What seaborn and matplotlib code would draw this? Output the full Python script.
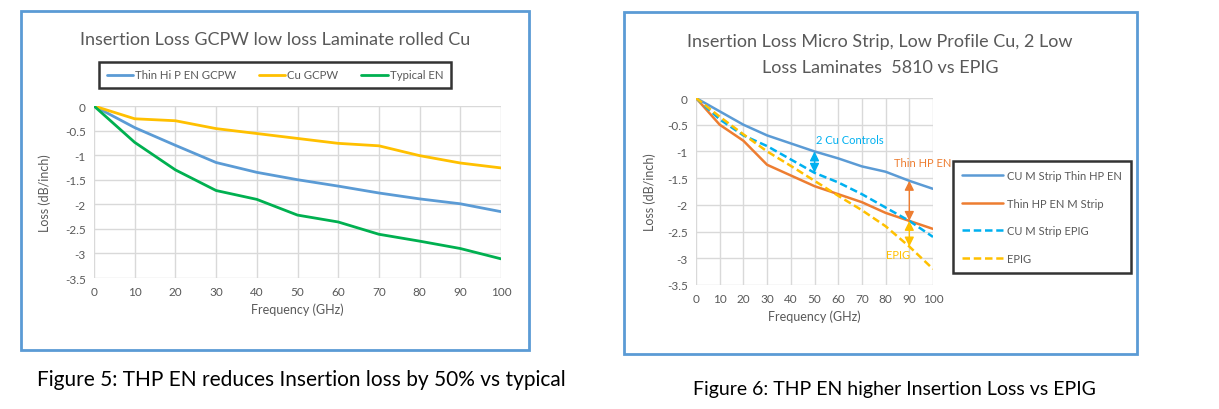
import seaborn as sns
import matplotlib.pyplot as plt
import pandas as pd
import numpy as np
from matplotlib.patches import Rectangle
from matplotlib.lines import Line2D
from matplotlib.ticker import FuncFormatter, MultipleLocator

# Frequency points (GHz)
freq = [0, 10, 20, 30, 40, 50, 60, 70, 80, 90, 100]

# Figure 5 - GCPW, low loss laminate, rolled Cu
left_names = ["Thin Hi P EN GCPW", "Cu GCPW", "Typical EN"]
thin_hi_p_en = [0, -0.44, -0.80, -1.15, -1.35, -1.50, -1.63, -1.77, -1.89, -1.99, -2.15]
cu_gcpw = [0, -0.26, -0.30, -0.46, -0.56, -0.66, -0.76, -0.81, -1.01, -1.16, -1.26]
typical_en = [0, -0.74, -1.30, -1.72, -1.90, -2.22, -2.36, -2.61, -2.75, -2.90, -3.11]

# Figure 6 - micro strip, low profile Cu
right_names = ["CU M Strip Thin HP EN", "Thin HP EN M Strip", "CU M Strip EPIG", "EPIG"]
cu_thin_hp_en = [0, -0.25, -0.50, -0.70, -0.85, -1.00, -1.13, -1.28, -1.38, -1.55, -1.70]
thin_hp_en_ms = [0, -0.50, -0.80, -1.25, -1.45, -1.65, -1.80, -1.95, -2.15, -2.30, -2.45]
cu_epig = [0, -0.40, -0.70, -0.90, -1.15, -1.40, -1.58, -1.80, -2.05, -2.30, -2.60]
epig = [0, -0.35, -0.68, -1.00, -1.27, -1.55, -1.83, -2.10, -2.40, -2.78, -3.20]

BLUE = "#5B9BD5"
GOLD = "#FFC000"
GREEN = "#00B050"
ORANGE = "#ED7D31"
CYAN = "#00B0F0"
GREY = "#595959"
GRID = "#D9D9D9"

sns.set_style("white")
plt.rcParams["font.family"] = ["Lato", "DejaVu Sans"]
plt.rcParams["axes.unicode_minus"] = False

W, H = 1219, 410
fig = plt.figure(figsize=(W / 100, H / 100), dpi=100)


def box(x0, y0, x1, y1):
    # pixel rect -> figure fraction
    return [x0 / W, 1 - y1 / H, (x1 - x0) / W, (y1 - y0) / H]


def style_axes(ax):
    ax.set_xlim(0, 100)
    ax.set_ylim(-3.5, 0)
    ax.xaxis.set_major_locator(MultipleLocator(10))
    ax.yaxis.set_major_locator(MultipleLocator(0.5))
    ax.yaxis.set_major_formatter(FuncFormatter(lambda v, p: "%g" % v))
    ax.grid(True, color=GRID, lw=1)
    for s in ax.spines.values():
        s.set_visible(False)
    ax.tick_params(length=0, labelsize=8.5, colors=GREY, pad=6)
    ax.set_xlabel("Frequency (GHz)", fontsize=9, color=GREY)
    ax.set_ylabel("Loss (dB/inch)", fontsize=9, color=GREY)


# panel borders
for x0, y0, x1, y1 in [(21, 12, 529, 351), (624, 13, 1137, 355)]:
    fig.add_artist(Rectangle((x0 / W, 1 - y1 / H), (x1 - x0) / W, (y1 - y0) / H,
                             transform=fig.transFigure, fill=False, ec="#5B9BD5", lw=2))

# ---- left chart ----
ax1 = fig.add_axes(box(94, 107, 501, 279))
df1 = pd.DataFrame({"freq": freq * 3,
                    "loss": thin_hi_p_en + cu_gcpw + typical_en,
                    "series": np.repeat(left_names, len(freq))})
pal1 = dict(zip(left_names, [BLUE, GOLD, GREEN]))
sns.lineplot(data=df1, x="freq", y="loss", hue="series", palette=pal1,
             lw=2, ax=ax1, legend=False)
style_axes(ax1)
ax1.yaxis.labelpad = 10
fig.text(275 / W, 1 - 40 / H, "Insertion Loss GCPW low loss Laminate rolled Cu",
         ha="center", va="center", fontsize=13, color=GREY)
h1 = [Line2D([], [], color=pal1[n], lw=2) for n in left_names]
leg1 = fig.legend(h1, left_names, loc="center", ncol=3,
                  bbox_to_anchor=(275 / W, 1 - 76 / H), fontsize=8.2,
                  frameon=True, fancybox=False, handlelength=2.3,
                  columnspacing=2.0, handletextpad=0.2, borderpad=0.7,
                  borderaxespad=0)
leg1.get_frame().set_edgecolor("black")
leg1.get_frame().set_linewidth(1.8)
for t in leg1.get_texts():
    t.set_color(GREY)

# ---- right chart ----
ax2 = fig.add_axes(box(696, 99, 933, 286))
df2 = pd.DataFrame({"freq": freq * 4,
                    "loss": cu_thin_hp_en + thin_hp_en_ms + cu_epig + epig,
                    "series": np.repeat(right_names, len(freq))})
pal2 = dict(zip(right_names, [BLUE, ORANGE, CYAN, GOLD]))
dash2 = dict(zip(right_names, ["", "", (3, 1.5), (3, 1.5)]))
sns.lineplot(data=df2, x="freq", y="loss", hue="series", style="series",
             palette=pal2, dashes=dash2, lw=1.8, ax=ax2, legend=False)
style_axes(ax2)
ax2.yaxis.labelpad = 8
fig.text(880 / W, 1 - 42 / H, "Insertion Loss Micro Strip, Low Profile Cu, 2 Low",
         ha="center", va="center", fontsize=13, color=GREY)
fig.text(880 / W, 1 - 68 / H, "Loss Laminates  5810 vs EPIG",
         ha="center", va="center", fontsize=13, color=GREY)

# comparison arrows, taken from the series values
i50, i90 = freq.index(50), freq.index(90)
arrows = [
    (50, cu_thin_hp_en[i50], cu_epig[i50], CYAN),
    (90, cu_thin_hp_en[i90], thin_hp_en_ms[i90], ORANGE),
    (90, thin_hp_en_ms[i90], epig[i90], GOLD),
]
for x, ya, yb, c in arrows:
    ax2.annotate("", xy=(x, yb), xytext=(x, ya),
                 arrowprops=dict(arrowstyle="<|-|>,head_length=0.7,head_width=0.35",
                                 color=c, lw=1, mutation_scale=8,
                                 shrinkA=0, shrinkB=0))
ax2.text(50.5, -0.78, "2 Cu Controls", color=CYAN, fontsize=8, va="center")
ax2.text(83.5, -1.21, "Thin HP EN", color=ORANGE, fontsize=8, va="center", clip_on=False)
ax2.text(80.3, -2.93, "EPIG", color=GOLD, fontsize=8, va="center")

h2 = [Line2D([], [], color=pal2[n], lw=1.8,
             ls="-" if dash2[n] == "" else (0, dash2[n])) for n in right_names]
leg2 = fig.legend(h2, right_names, loc="center",
                  bbox_to_anchor=(1042 / W, 1 - 218 / H), fontsize=8,
                  frameon=True, fancybox=False, handlelength=3.7,
                  handletextpad=0.3, labelspacing=1.5, borderpad=0.8,
                  borderaxespad=0)
leg2.get_frame().set_edgecolor("black")
leg2.get_frame().set_linewidth(1.8)
for t in leg2.get_texts():
    t.set_color(GREY)

# captions
fig.text(37 / W, 1 - 380 / H, "Figure 5: THP EN reduces Insertion loss by 50% vs typical",
         ha="left", va="center", fontsize=15, color="black")
fig.text(693 / W, 1 - 390 / H, "Figure 6: THP EN higher Insertion Loss vs EPIG",
         ha="left", va="center", fontsize=14, color="black")

fig.savefig("out.png", dpi=100)
